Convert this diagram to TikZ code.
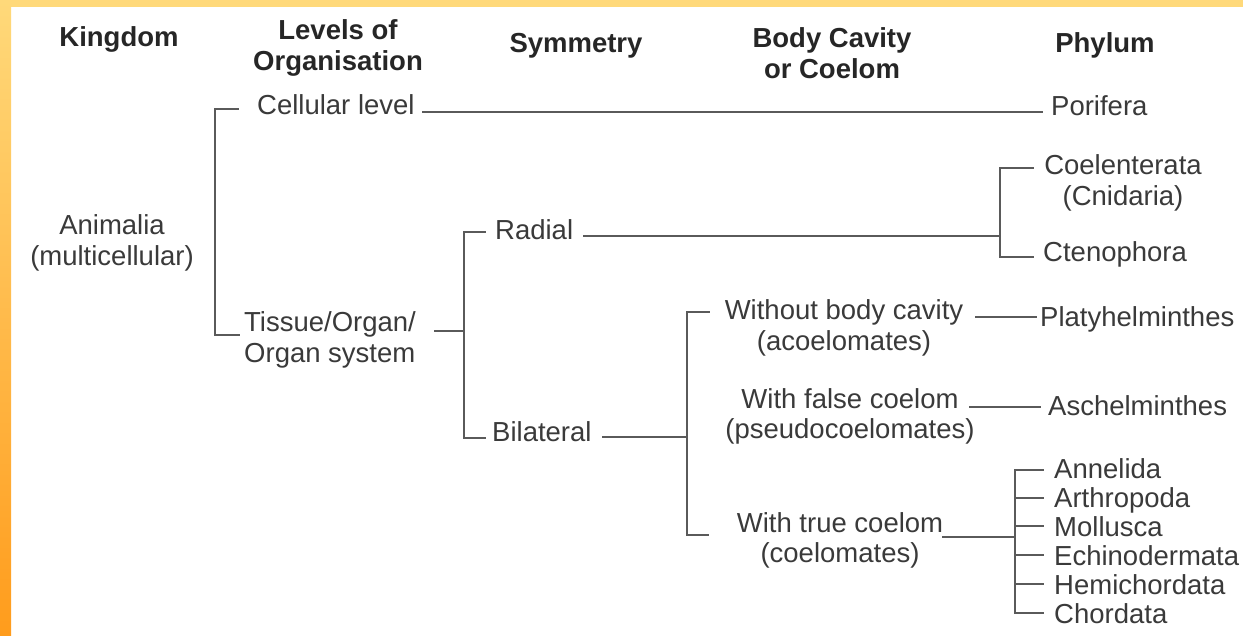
\documentclass[tikz,border=0pt]{standalone}
\usepackage{fontspec}
\setmainfont{Liberation Sans}
\definecolor{txt}{HTML}{3A3A3A}
\definecolor{hdr}{HTML}{262626}
\definecolor{ln}{HTML}{5A5A5A}
\definecolor{bandtop}{HTML}{FFD97A}
\definecolor{bandbot}{HTML}{FF9C1C}
\tikzset{
  lbl/.style={inner sep=0pt, text=txt, font=\fontsize{27.5}{30.5}\selectfont},
  lblw/.style={lbl, anchor=base west, align=left},
  lblc/.style={lbl, anchor=base, align=center},
  hd/.style={inner sep=0pt, text=hdr, anchor=base, align=center, font=\fontsize{27.5}{30.5}\selectfont\bfseries},
  conn/.style={draw=ln, line width=1.9pt, line cap=rect}
}
\begin{document}
\begin{tikzpicture}[x=1pt,y=-1pt]
\useasboundingbox (0,0) rectangle (1243,636);
\fill[white] (0,0) rectangle (1243,636);
\fill[bandtop] (0,0) rectangle (1243,7);
\shade[top color=bandtop, bottom color=bandbot] (0,0) rectangle (11,636);

% headers (base anchor = baseline of last line)
\node[hd] (hkingdom) at (119,47) {Kingdom};
\node[hd] (hlevels) at (338,70.5) {Levels of\\Organisation};
\node[hd] (hsym) at (576,53) {Symmetry};
\node[hd] (hcavity) at (832,78.5) {Body Cavity\\or Coelom};
\node[hd] (hphylum) at (1105,53) {Phylum};

% kingdom
\node[lblc] (animalia) at (112,265.5) {Animalia\\(multicellular)};

% levels
\node[lblw] (cellular) at (257,115) {Cellular level};
\node[lblw] (tissue) at (244,362.5) {Tissue/Organ/\\Organ system};

% symmetry
\node[lblw] (radial) at (495,240) {Radial};
\node[lblw] (bilateral) at (492,442) {Bilateral};

% body cavity
\node[lblc] (acoel) at (844,350.5) {Without body cavity\\(acoelomates)};
\node[lblc] (pseudo) at (850,438.5) {With false coelom\\(pseudocoelomates)};
\node[lblc] (coelom) at (840,562.5) {With true coelom\\(coelomates)};

% phyla
\node[lblw] (porifera) at (1051,116) {Porifera};
\node[lblc] (coelent) at (1123,205.5) {Coelenterata\\(Cnidaria)};
\node[lblw] (cteno) at (1043,262) {Ctenophora};
\node[lblw] (platy) at (1040,327) {Platyhelminthes};
\node[lblw] (aschel) at (1048,416) {Aschelminthes};
\node[lblw] (annelida) at (1054,478) {Annelida};
\node[lblw] (arthro) at (1054,507.5) {Arthropoda};
\node[lblw] (mollusca) at (1054,536.5) {Mollusca};
\node[lblw] (echino) at (1054,565.5) {Echinodermata};
\node[lblw] (hemi) at (1054,594.5) {Hemichordata};
\node[lblw] (chorda) at (1054,623.5) {Chordata};

% connector end points
\coordinate (kTop) at (238,109);
\coordinate (kBot) at (239,335);
\coordinate (kX) at (215,0);
\coordinate (cellA) at (423,112);
\coordinate (cellB) at (1042,112);
\coordinate (tisA) at (435,331);
\coordinate (sX) at (464,331);
\coordinate (sTop) at (485,232);
\coordinate (sBot) at (485,438);
\coordinate (radA) at (584,236);
\coordinate (cX) at (1000,236);
\coordinate (cTop) at (1033,168);
\coordinate (cBot) at (1033,257);
\coordinate (bilA) at (603,437);
\coordinate (bX) at (687,437);
\coordinate (bTop) at (709,312);
\coordinate (bBot) at (708,535);
\coordinate (acA) at (976,317);
\coordinate (acB) at (1036,317);
\coordinate (psA) at (970,407);
\coordinate (psB) at (1040,407);
\coordinate (coA) at (943,537);
\coordinate (pX) at (1015,537);
\coordinate (pE) at (1043,0);

% kingdom bracket
\draw[conn] (kTop) -- (kTop -| kX) -- (kBot -| kX) -- (kBot);
% cellular -> porifera
\draw[conn] (cellA) -- (cellB);
% tissue -> symmetry bracket
\draw[conn] (tisA) -- (sX);
\draw[conn] (sTop) -- (sTop -| sX) -- (sBot -| sX) -- (sBot);
% radial -> coelenterata / ctenophora
\draw[conn] (radA) -- (cX);
\draw[conn] (cTop) -- (cTop -| cX) -- (cBot -| cX) -- (cBot);
% bilateral -> cavity bracket
\draw[conn] (bilA) -- (bX);
\draw[conn] (bTop) -- (bTop -| bX) -- (bBot -| bX) -- (bBot);
% cavity -> phyla
\draw[conn] (acA) -- (acB);
\draw[conn] (psA) -- (psB);
\draw[conn] (coA) -- (pX);
\draw[conn] (pX |- 0,470) -- (pX |- 0,613);
\foreach \yy in {470,498,526,555,584,613}
  \draw[conn] (pX |- 0,\yy) -- (pE |- 0,\yy);
\end{tikzpicture}
\end{document}
